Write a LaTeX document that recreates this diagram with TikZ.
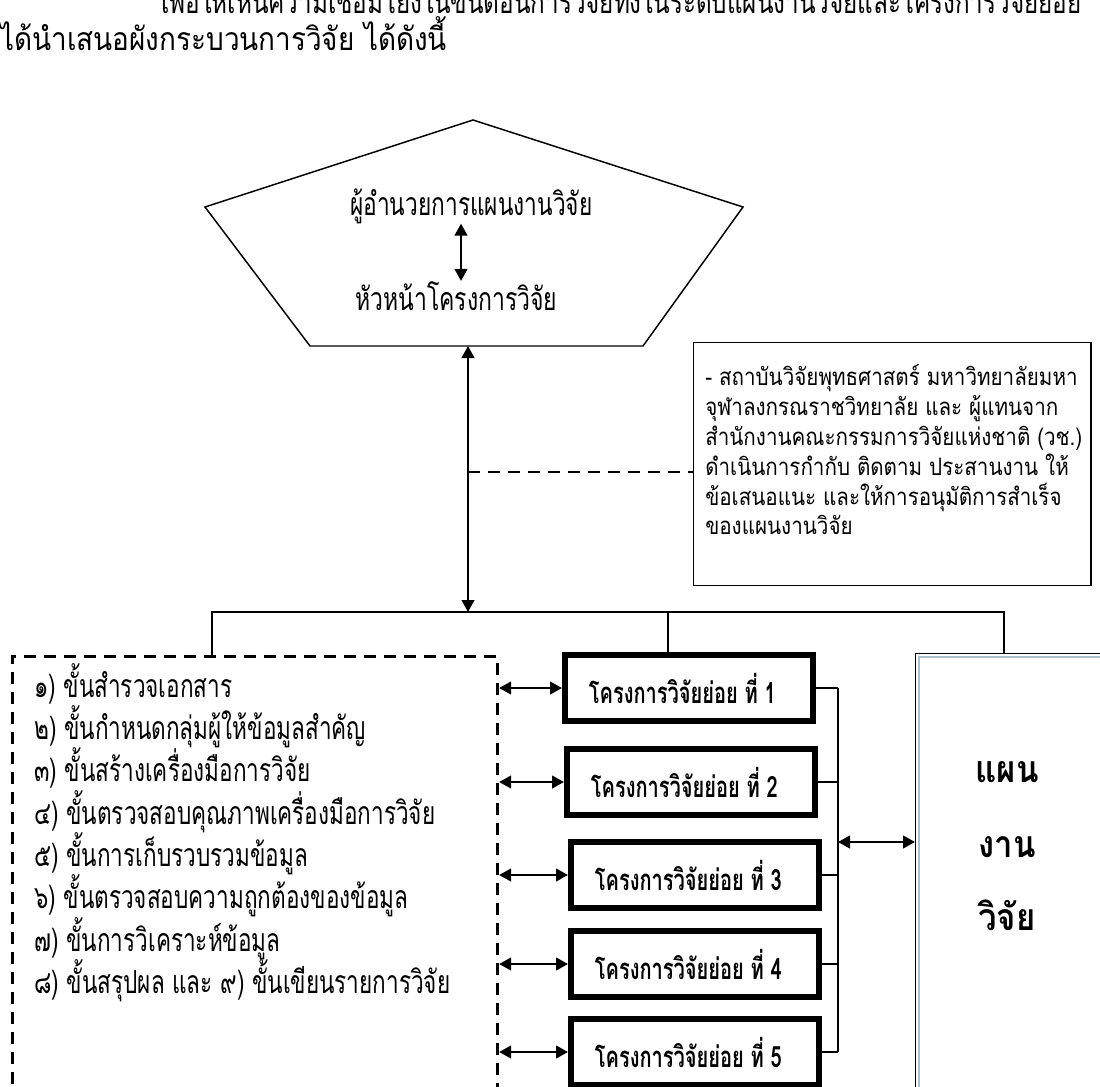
\documentclass[tikz,border=0pt]{standalone}
\usepackage{graphicx}
\usepackage{fontspec}
\newfontfamily\thaifont[Script=Thai]{Loma}
\usetikzlibrary{arrows.meta}
\definecolor{planrim}{RGB}{170,192,202}
\newlength\wideline
\newcommand\fitwidth[2]{\resizebox{#1}{\height}{#2}}
\newcommand\stepsfont{\thaifont\fontsize{24}{28}\selectfont}
\newcommand\boardfont{\thaifont\fontsize{18}{22}\selectfont}
\newcommand\subprojfont{\thaifont\bfseries\fontsize{22}{26}\selectfont}
\newcommand\planlabelfont{\thaifont\bfseries\fontsize{28}{32}\selectfont}
\settowidth\wideline{\stepsfont ๘) ขั้นสรุปผล และ ๙) ขั้นเขียนรายการวิจัย}
\pgfmathsetmacro\stepsqueeze{312/\wideline}
\settowidth\wideline{\boardfont สำนักงานคณะกรรมการวิจัยแห่งชาติ (วช.)}
\pgfmathsetmacro\boardsqueeze{282.75/\wideline}
\settowidth\wideline{\subprojfont โครงการวิจัยย่อย ที่ 1}
\pgfmathsetmacro\subsqueeze{140.25/\wideline}
\settowidth\wideline{\planlabelfont แผน}
\pgfmathsetmacro\plansqueeze{47.25/\wideline}
\tikzset{
	twoway/.style={{Triangle[length=9pt,width=9.5pt]}-{Triangle[length=9pt,width=9.5pt]},line width=1.6pt},
	thin/.style={line width=1.1pt},
	dashbox/.style={line width=2.1pt,dash pattern=on 9pt off 6pt},
	plaintext/.style={anchor=base west,inner sep=0pt},
	subbox/.style={draw,line width=4.5pt,minimum width=186pt,minimum height=49.5pt,inner sep=0pt},
}

\begin{document}
\begin{tikzpicture}[x=0.75pt,y=-0.75pt,font=\stepsfont]
	\useasboundingbox (0,0) rectangle (1100,1086);
	\node[plaintext] (introa) at (161,13) {\fitwidth{690pt}{เพื่อให้เห็นความเชื่อมโยงในขั้นตอนการวิจัยทั้งในระดับแผนงานวิจัยและโครงการวิจัยย่อย}};
	\node[plaintext] (introb) at (0,50) {\fitwidth{335pt}{ได้นำเสนอผังกระบวนการวิจัย ได้ดังนี้}};
	\draw[thin] (473,120) -- (743,207) -- (643,346) -- (310,346) -- (205,207) -- cycle;
	\node[plaintext] (director) at (350,215) {\fitwidth{181.5pt}{ผู้อำนวยการแผนงานวิจัย}};
	\node[plaintext] (head) at (355,310) {\fitwidth{151.5pt}{หัวหน้าโครงการวิจัย}};
	\coordinate (pentlink) at (461,0);
	\draw[twoway] (director.south -| pentlink) -- (head.north -| pentlink);
	\coordinate (pentb) at (468,346);
	\node[draw,thin,anchor=north west,minimum width=298pt,minimum height=182pt] (board) at (693,342) {};
	\foreach \t [count=\i] in {{- สถาบันวิจัยพุทธศาสตร์ มหาวิทยาลัยมหา},{จุฬาลงกรณราชวิทยาลัย และ ผู้แทนจาก},{สำนักงานคณะกรรมการวิจัยแห่งชาติ (วช.)},{ดำเนินการกำกับ ติดตาม ประสานงาน ให้},{ข้อเสนอแนะ และให้การอนุมัติการสำเร็จ},{ของแผนงานวิจัย}} {
		\node[plaintext,font=\boardfont] (board\i) at (705,356+29.8*\i) {\scalebox{\boardsqueeze}[1]{\t}};
	}
	\coordinate (busc) at (468,612);
	\coordinate (busl) at (212,612);
	\coordinate (busm) at (668,612);
	\coordinate (busr) at (1004,612);
	\coordinate (midlink) at (468,472);
	\draw[twoway] (pentb) -- (busc);
	\draw[dashbox] (midlink) -- (board.west |- midlink);
	\node[draw,dashbox,anchor=north west,minimum width=364pt,minimum height=340pt] (steps) at (11,655) {};
	\foreach \t [count=\i] in {{๑) ขั้นสำรวจเอกสาร},{๒) ขั้นกำหนดกลุ่มผู้ให้ข้อมูลสำคัญ},{๓) ขั้นสร้างเครื่องมือการวิจัย},{๔) ขั้นตรวจสอบคุณภาพเครื่องมือการวิจัย},{๕) ขั้นการเก็บรวบรวมข้อมูล},{๖) ขั้นตรวจสอบความถูกต้องของข้อมูล},{๗) ขั้นการวิเคราะห์ข้อมูล},{๘) ขั้นสรุปผล และ ๙) ขั้นเขียนรายการวิจัย}} {
		\node[plaintext] (step\i) at (34,655+42.3*\i) {\scalebox{\stepsqueeze}[1]{\t}};
	}
	\node[draw,thin,anchor=north west,minimum width=160pt,minimum height=340pt] (plan) at (915,653) {};
	\draw[planrim,line width=1.6pt] ([xshift=3pt]plan.south west) |- ([yshift=-3pt]plan.north east);
	\foreach \t/\y [count=\i] in {แผน/782,งาน/857,วิจัย/930} {
		\node[font=\planlabelfont,anchor=base,inner sep=0] (plan\i) at (1007,\y) {\scalebox{\plansqueeze}[1]{\t}};
	}
	\coordinate (spine) at (838,0);
	\foreach \y/\x [count=\i] in {688/689,782/691,875/695,964/695,1052/695} {
		\node[subbox] (sub\i) at (\x,\y) {};
		\node[font=\subprojfont,inner sep=0] (subtext\i) at ([xshift=-5pt]sub\i.center) {\scalebox{\subsqueeze}[1]{โครงการวิจัยย่อย ที่ \i}};
		\draw[twoway] (steps.east |- sub\i) -- (sub\i.west);
		\draw[thin] (sub\i.east) -- (sub\i -| spine);
	}
	\draw[thin] (sub1 -| spine) -- (sub5 -| spine);
	\coordinate (planlink) at (838,842);
	\draw[twoway] (planlink) -- (plan.west |- planlink);
	\draw[thin] (steps.north -| busl) -- (busl) -- (busr) -- (plan.north -| busr);
	\draw[thin] (busm) -- (busm |- sub1.north);
\end{tikzpicture}
\end{document}
